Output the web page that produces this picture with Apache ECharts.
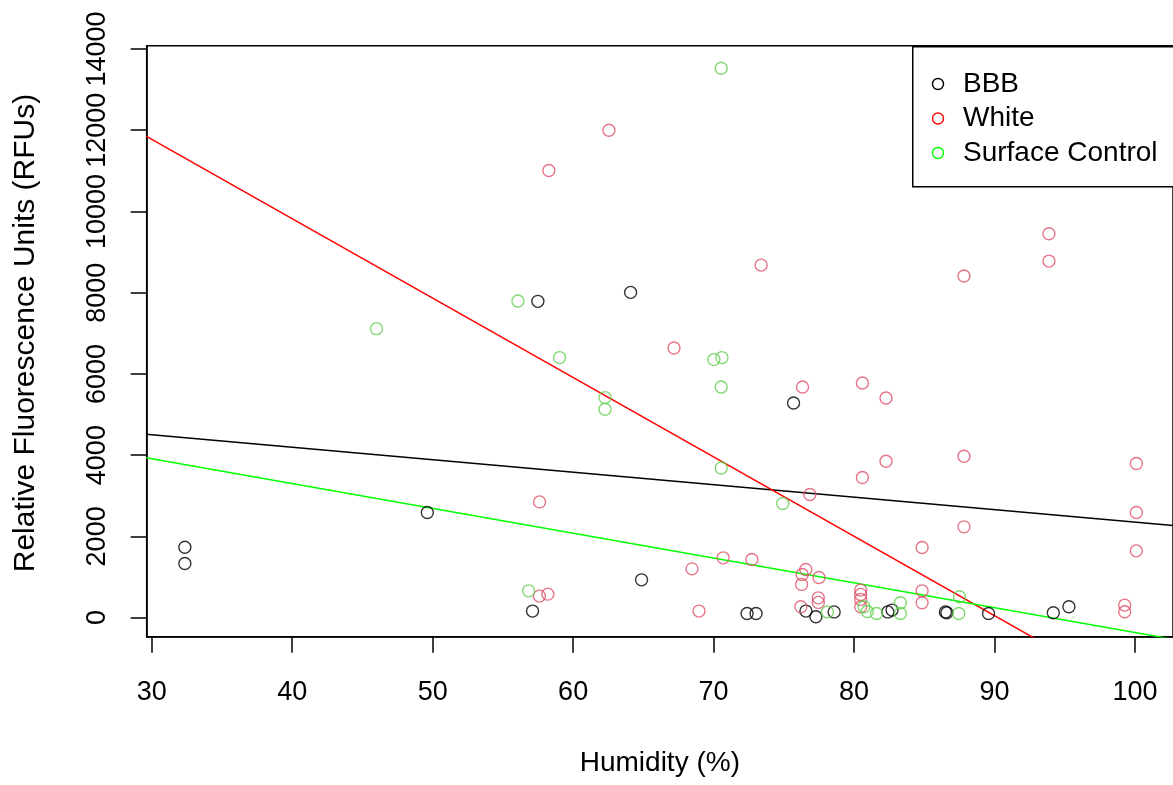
<!DOCTYPE html>
<html>
<head>
<meta charset="utf-8">
<script src="https://cdn.jsdelivr.net/npm/echarts@6/dist/echarts.min.js"></script>
<style>html,body{margin:0;padding:0;background:#fff;}#chart{width:1173px;height:785px;}</style>
</head>
<body>
<div id="chart"></div>
<script>
// Data: [humidity %, RFU]
const bbbPoints = [
  [32.36,1734],[32.36,1333],[49.62,2588],[57.49,7786],[64.09,8007],[75.69,5284],
  [64.87,930],[57.11,160],[72.38,100],[73.02,100],[76.57,160],[77.28,20],
  [78.58,140],[82.4,140],[82.7,185],[86.5,140],[86.6,120],[89.57,100],[94.18,118],[95.29,266]
];
const whitePoints = [
  [62.55,12000],[58.27,11009],[73.38,8679],[93.87,9451],[93.87,8777],[87.82,8409],
  [67.18,6637],[76.33,5678],[80.59,5776],[82.27,5407],[82.27,3850],[80.59,3449],
  [87.82,3973],[76.85,3031],[57.61,2849],[100.09,3793],[100.09,2588],[87.82,2234],
  [84.84,1727],[100.09,1643],[70.68,1471],[72.72,1432],[68.46,1200],[76.56,1186],
  [76.3,1063],[77.5,989],[76.26,817],[77.45,487],[77.45,374],[76.21,266],
  [57.6,529],[58.2,578],[68.96,160],[80.47,677],[80.47,571],[80.47,448],[80.47,266],
  [84.84,659],[84.84,364],[99.26,308],[99.26,143]
];
const surfacePoints = [
  [70.54,13525],[56.07,7793],[46.0,7114],[59.03,6401],[70.02,6352],[70.59,6401],
  [70.54,5678],[62.27,5417],[62.27,5129],[70.54,3685],[74.92,2809],[56.83,659],
  [78.1,140],[80.7,266],[80.94,150],[81.6,103],[83.3,364],[83.3,103],[87.5,512],[87.45,103]
];
// Fitted regression lines, read as two end points each (clipped to the plot box)
const bbbFit = [[29.6,4516],[102.7,2265]];
const whiteFit = [[29.6,11855],[102.7,-2436]];
const surfaceFit = [[29.6,3934],[102.7,-532]];

const seriesNames = ['BBB','White','Surface Control'];
const xTicks = [30,40,50,60,70,80,90,100];
const yTicks = [0,2000,4000,6000,8000,10000,12000,14000];
const xTitle = 'Humidity (%)';
const yTitle = 'Relative Fluorescence Units (RFUs)';

const FONT = '"Liberation Sans", Arial, sans-serif';
const ptColors = ['#000000','#DF536B','#61D04F'];
const lineColors = ['#000000','#FF0000','#00FF00'];
const legendColors = ['#000000','#FF0000','#00FF00'];

const chart = echarts.init(document.getElementById('chart'), null, {renderer:'canvas'});

function scatter(name, data, color) {
  return {
    name, type:'scatter', data, symbol:'circle', symbolSize:12,
    itemStyle:{color:'rgba(0,0,0,0)', borderColor:color, borderWidth:1.4},
    emphasis:{disabled:true}, z:3
  };
}
function fit(data, color) {
  return {
    type:'line', data, showSymbol:false, clip:true,
    lineStyle:{color, width:1.5}, emphasis:{disabled:true}, z:2, silent:true
  };
}

const legendTop = 46, legendLeft = 912, rowH = 34.5;
const graphics = [
  {type:'rect', left:legendLeft, top:legendTop, shape:{width:280, height:140},
   style:{fill:'#fff', stroke:'#000', lineWidth:1.5}, z:10},
  {type:'text', x:26, y:333, rotation:Math.PI/2,
   style:{text:yTitle, fill:'#000', font:'30px ' + FONT, textAlign:'center', textVerticalAlign:'middle'}, z:11}
];
seriesNames.forEach((n,i)=>{
  const cy = legendTop + 38 + i*rowH;
  graphics.push({type:'circle', shape:{cx:938, cy:cy, r:5.5},
    style:{fill:'none', stroke:legendColors[i], lineWidth:1.4}, z:11});
  graphics.push({type:'text', x:963, y:cy,
    style:{text:n, fill:'#000', font:'28px ' + FONT, textVerticalAlign:'middle', textAlign:'left'}, z:11});
});

chart.setOption({
  animation:false,
  backgroundColor:'#fff',
  grid:{left:146.7, top:45.7, width:1030, height:591, show:true, borderColor:'#000', borderWidth:1.5, containLabel:false},
  xAxis:{
    type:'value', min:29.645, max:102.7,
    name:xTitle, nameLocation:'middle', nameGap:113,
    nameTextStyle:{fontFamily:FONT, fontSize:28, color:'#000'},
    axisLine:{show:true, onZero:false, lineStyle:{color:'#000', width:1.5}},
    axisTick:{show:true, length:16, customValues:xTicks, lineStyle:{color:'#000', width:1.5}},
    axisLabel:{customValues:xTicks, margin:42, fontFamily:FONT, fontSize:27, color:'#000',
      showMinLabel:true, showMaxLabel:true, formatter:v=>String(v)},
    splitLine:{show:false}
  },
  yAxis:{
    type:'value', min:-470, max:14080,
    axisLine:{show:true, onZero:false, lineStyle:{color:'#000', width:1.5}},
    axisTick:{show:true, length:16, customValues:yTicks, lineStyle:{color:'#000', width:1.5}},
    axisLabel:{customValues:yTicks, rotate:90, margin:36, fontFamily:FONT, fontSize:27, color:'#000',
      showMinLabel:true, showMaxLabel:true, hideOverlap:false, formatter:v=>String(v)},
    splitLine:{show:false}
  },
  legend:{show:false},
  series:[
    scatter(seriesNames[0], bbbPoints, ptColors[0]),
    scatter(seriesNames[1], whitePoints, ptColors[1]),
    scatter(seriesNames[2], surfacePoints, ptColors[2]),
    fit(bbbFit, lineColors[0]),
    fit(whiteFit, lineColors[1]),
    fit(surfaceFit, lineColors[2])
  ],
  graphic:graphics
});
</script>
</body>
</html>
